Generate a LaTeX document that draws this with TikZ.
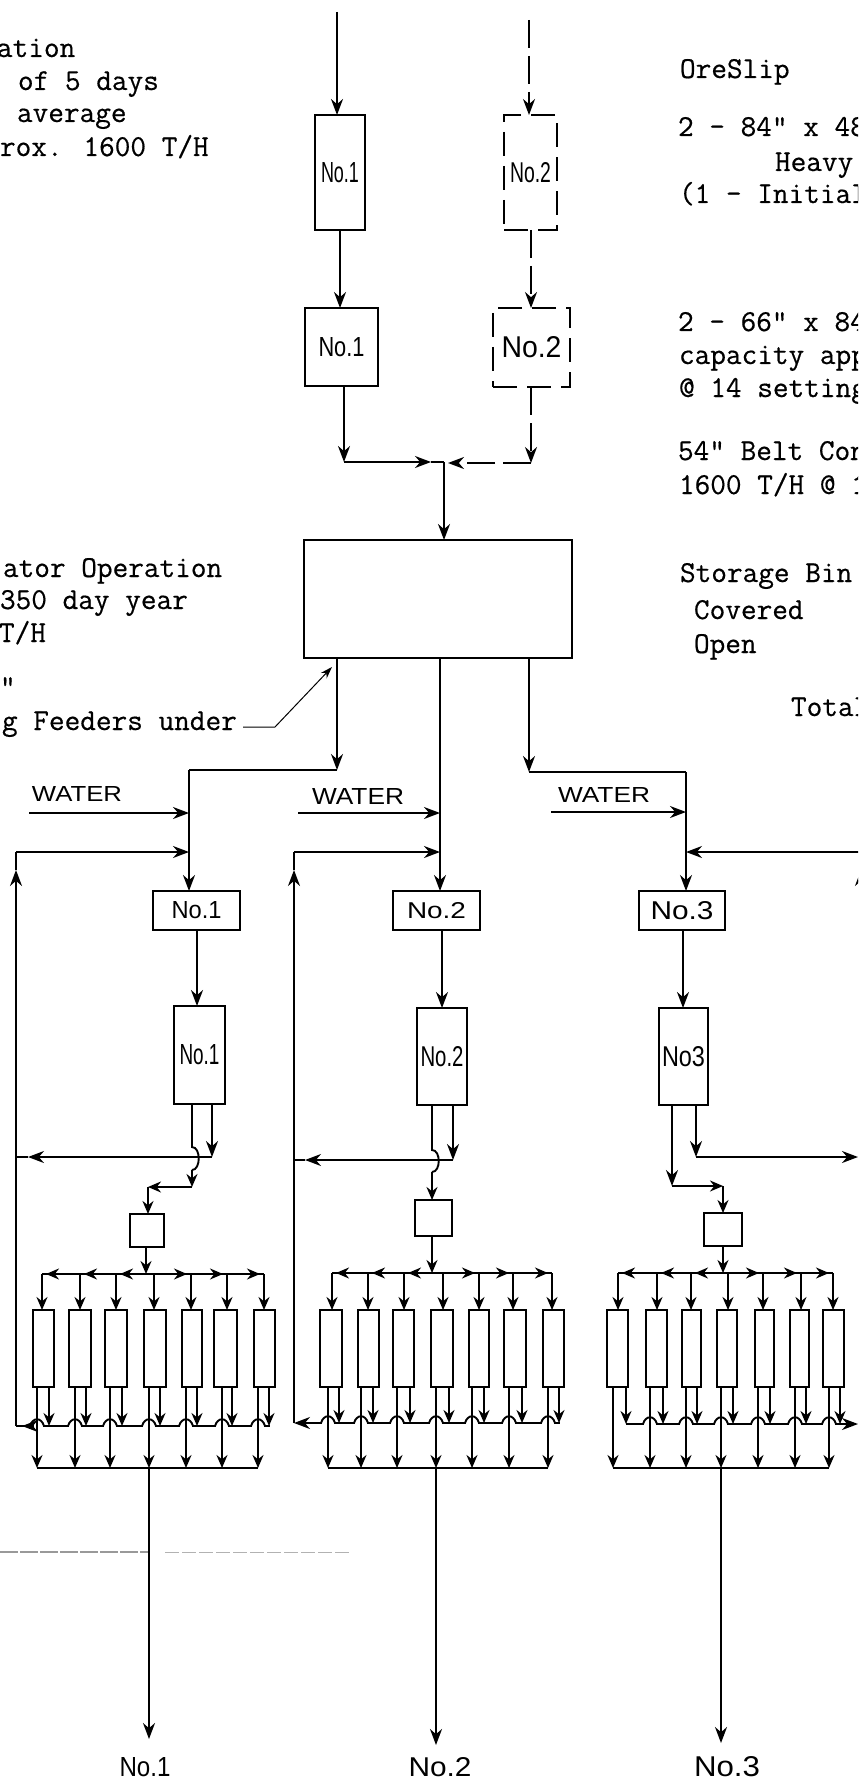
\documentclass[tikz,border=0pt]{standalone}
\usepackage{fontspec}
\usepackage{graphicx}
\setsansfont{Liberation Sans}
\newfontfamily\twfont[FakeBold=0.5]{Latin Modern Mono}
\usetikzlibrary{arrows.meta}
\newcommand{\hw}[3]{\resizebox{#1pt}{#2pt}{\sffamily #3}}
\tikzset{
  tw/.style={anchor=base west,inner sep=0pt,outer sep=0pt,font=\fontsize{15.2}{18}\selectfont\twfont},
  lbl/.style={inner sep=0pt,outer sep=0pt},
  boxn/.style={draw,line width=1.1pt,inner sep=0pt,outer sep=0pt},
  dbox/.style={boxn,line width=0.95pt,dash pattern=on 12pt off 5pt},
  line/.style={line width=0.95pt},
  arr/.style={line,-{Stealth[length=8pt,width=6pt]}},
  sarr/.style={line,-{Stealth[length=6.5pt,width=5.5pt]}},
  darr/.style={arr,dash pattern=on 14pt off 4pt},
  thin leader/.style={line width=0.5pt,-{Stealth[length=6pt,width=4pt]}}
}
\newcommand{\pbox}[7][boxn]{%
  \node[#1,minimum width={(#5-#3)*0.5pt},minimum height={(#6-#4)*0.5pt}] (#2) at ({(#3+#5)/2},{(#4+#6)/2}) {#7};}
% #1 name, #2 header y, #3 collector y, #4 first hop, #5 list
\newcommand{\bank}[5]{%
  \foreach \i/\xa/\xb/\xd/\xl/\xr/\xs in {#5}{%
    \pbox{#1b\i}{\xa}{1310}{\xb}{1387}{}
    \coordinate (#1h\i) at (\xd,#2);
    \coordinate (#1k\i) at (\xl,#3);
    \coordinate (#1l\i) at (\xl,1468);
    \coordinate (#1r\i) at (\xr,#3);
    \draw[sarr] (#1h\i) -- (#1b\i.north -| #1h\i);
    \ifnum\xs=0\else
      \draw[sarr] ([xshift=\xs*8pt]#1h\i) -- ([xshift=\xs*2pt]#1h\i);
    \fi
    \ifnum\i<#4\else
      \draw[white,line width=2pt] ([xshift=-3.2pt]#1k\i) -- ([xshift=3.2pt]#1k\i);
      \draw[line] ([xshift=-3.5pt]#1k\i) .. controls ([xshift=-2.2pt,yshift=4.5pt]#1k\i) and ([xshift=2.2pt,yshift=4.5pt]#1k\i) .. ([xshift=3.5pt]#1k\i);
    \fi
    \draw[sarr] (#1b\i.south -| #1l\i) -- (#1l\i);
    \draw[sarr] (#1b\i.south -| #1r\i) -- (#1r\i);
  }}
\begin{document}
\begin{tikzpicture}[x=0.5pt,y=-0.5pt]
\useasboundingbox (0,0) rectangle (858,1781);
\clip (0,0) rectangle (858,1781);
% ---------- left notes
\node[tw] (t1) at (-3,57) {ation};
\node[tw] (t2) at (18,90) {of 5 days};
\node[tw] (t3) at (17,122) {average};
\node[tw] (t4) at (0,156) {rox. 1600 T/H};
\node[tw] (t5) at (3,577) {ator Operation};
\node[tw] (t6) at (0,609) {350 day year};
\node[tw] (t7) at (-1,642) {T/H};
\node[tw] (t8) at (0,696) {"};
\node[tw] (t9) at (2,730) {g Feeders under};
% ---------- right notes
\node[tw] (r1) at (680,78) {OreSlip};
\node[tw] (r2) at (678,136) {2 - 84" x 48"};
\node[tw] (r3) at (775,171) {Heavy};
\node[tw] (r4) at (679,203) {(1 - Initial};
\node[tw] (r5) at (678,331) {2 - 66" x 84"};
\node[tw] (r6) at (679,364) {capacity app};
\node[tw] (r7) at (679,397) {@ 14 setting};
\node[tw] (r8) at (678,460) {54" Belt Con};
\node[tw] (r9) at (679,494) {1600 T/H @ 1};
\node[tw] (r10) at (680,582) {Storage Bin};
\node[tw] (r11) at (694,619) {Covered};
\node[tw] (r12) at (694,653) {Open};
\node[tw] (r13) at (791,716) {Total};
% ---------- top train
\coordinate (in1) at (337,12);
\coordinate (in2) at (529,20);
\pbox{sc1}{315}{115}{365}{230}{\hw{19}{10}{No.1}}
\pbox{cr1}{305}{308}{378}{386}{\hw{23}{9.5}{No.1}}
\pbox[dbox]{sc2}{504}{115}{557}{230}{\hw{20.5}{10}{No.2}}
\pbox[dbox]{cr2}{493}{308}{570}{387}{\hw{30}{10.5}{No.2}}
\pbox{bin}{304}{540}{572}{658}{}
\coordinate (a1) at (340,0);
\coordinate (a2) at (344,462);
\coordinate (a3) at (444,462);
\coordinate (a4) at (431,462);
\coordinate (a5) at (531,0);
\coordinate (a6) at (531,463);
\coordinate (a7) at (448,463);
\draw[arr] (in1) -- (sc1.north -| in1);
\draw[arr] (sc1.south -| a1) -- (cr1.north -| a1);
\draw[arr] (cr1.south -| a2) -- (a2);
\draw[arr] (a2) -- (a4);
\draw[line] (a4) -- (a3);
\draw[darr] (in2) -- (sc2.north -| in2);
\draw[darr] (sc2.south -| a5) -- (cr2.north -| a5);
\draw[darr] (cr2.south -| a5) -- (a6);
\draw[darr] (a6) -- (a7);
\draw[arr] (a3) -- (bin.north -| a3);
% ---------- leader
\coordinate (ld1) at (243,727);
\coordinate (ld2) at (275,727);
\coordinate (ld3) at (332,667);
\draw[thin leader] (ld1) -- (ld2) -- (ld3);
% ---------- feeders
\pbox{f1}{153}{891}{240}{930}{\hw{25}{8.5}{No.1}}
\pbox{f2}{393}{891}{480}{930}{\hw{29.5}{8}{No.2}}
\pbox{f3}{639}{891}{725}{930}{\hw{31.5}{9}{No.3}}
\coordinate (o1) at (337,0);
\coordinate (o1b) at (337,770);
\coordinate (o1c) at (189,770);
\coordinate (o2) at (440,0);
\coordinate (o3) at (529,0);
\coordinate (o3b) at (529,772);
\coordinate (o3c) at (686,772);
\draw[arr] (bin.south -| o1) -- (o1b);
\draw[line] (o1b) -- (o1c);
\draw[arr] (o1c) -- (f1.north -| o1c);
\draw[arr] (bin.south -| o2) -- (f2.north -| o2);
\draw[arr] (bin.south -| o3) -- (o3b);
\draw[line] (o3b) -- (o3c);
\draw[arr] (o3c) -- (f3.north -| o3c);
% ---------- water
\node[lbl] (w1) at (77,794) {\hw{45}{7.5}{WATER}};
\node[lbl] (w2) at (358,796) {\hw{46}{8}{WATER}};
\node[lbl] (w3) at (604,795) {\hw{46}{7.5}{WATER}};
\coordinate (w1a) at (29,813); \coordinate (w1b) at (189,813);
\coordinate (w2a) at (298,813); \coordinate (w2b) at (440,813);
\coordinate (w3a) at (551,812); \coordinate (w3b) at (686,812);
\draw[arr] (w1a) -- (w1b);
\draw[arr] (w2a) -- (w2b);
\draw[arr] (w3a) -- (w3b);
% ---------- cyclones
\coordinate (g1) at (197,0); \coordinate (g2) at (442,0); \coordinate (g3) at (683,0);
\pbox{cy1}{174}{1006}{225}{1104}{\hw{20}{10}{No.1}}
\pbox{cy2}{417}{1008}{467}{1105}{\hw{21.5}{10}{No.2}}
\pbox{cy3}{659}{1008}{708}{1105}{\hw{21.5}{10}{No3}}
\draw[arr] (f1.south -| g1) -- (cy1.north -| g1);
\draw[arr] (f2.south -| g2) -- (cy2.north -| g2);
\draw[arr] (f3.south -| g3) -- (cy3.north -| g3);
% ---------- distributor boxes
\pbox{d1}{130}{1214}{164}{1247}{}
\pbox{d2}{415}{1200}{452}{1236}{}
\pbox{d3}{704}{1213}{742}{1246}{}
% column 1 outlets
\coordinate (u1) at (192,0); \coordinate (u1a) at (192,1147); \coordinate (u1b) at (192,1170); \coordinate (u1c) at (192,1187);
\coordinate (u1d) at (148,1187);
\coordinate (v1) at (212,0); \coordinate (v1a) at (212,1157); \coordinate (v1b) at (28,1157); \coordinate (v1c) at (16,1157);
\draw[arr] (cy1.south -| v1) -- (v1a);
\draw[arr] (v1a) -- (v1b);
\draw[line] (v1b) -- (v1c);
\draw[line] (cy1.south -| u1) -- (u1a) .. controls ([xshift=4.5pt]u1a) and ([xshift=4.5pt]u1b) .. (u1b);
\draw[sarr] (u1b) -- (u1c);
\draw[sarr] (u1c) -- (u1d);
\draw[sarr] (u1d) -- (d1.north -| u1d);
% column 2 outlets
\coordinate (u2) at (432,0); \coordinate (u2a) at (432,1150); \coordinate (u2b) at (432,1172);
\coordinate (v2) at (453,0); \coordinate (v2a) at (453,1160); \coordinate (v2b) at (305,1160); \coordinate (v2c) at (294,1160);
\draw[arr] (cy2.south -| v2) -- (v2a);
\draw[arr] (v2a) -- (v2b);
\draw[line] (v2b) -- (v2c);
\draw[line] (cy2.south -| u2) -- (u2a) .. controls ([xshift=4.5pt]u2a) and ([xshift=4.5pt]u2b) .. (u2b);
\draw[sarr] (u2b) -- (d2.north -| u2b);
% column 3 outlets
\coordinate (u3) at (672,0); \coordinate (u3a) at (672,1186); \coordinate (u3b) at (723,1186);
\coordinate (v3) at (696,0); \coordinate (v3a) at (696,1157); \coordinate (v3b) at (858,1157);
\draw[arr] (cy3.south -| u3) -- (u3a);
\draw[sarr] (u3a) -- (u3b);
\draw[sarr] (u3b) -- (d3.north -| u3b);
\draw[arr] (cy3.south -| v3) -- (v3a);
\draw[arr] (v3a) -- (v3b);
% ---------- headers and collectors
\coordinate (e1) at (146,0); \coordinate (e2) at (432,0); \coordinate (e3) at (723,0);
\coordinate (c1hL) at (42,1274); \coordinate (c1hR) at (264,1274);
\coordinate (c2hL) at (332,1273); \coordinate (c2hR) at (552,1273);
\coordinate (c3hL) at (618,1273); \coordinate (c3hR) at (833,1273);
\draw[line] (c1hL) -- (c1hR);
\draw[line] (c2hL) -- (c2hR);
\draw[line] (c3hL) -- (c3hR);
\draw[sarr] (d1.south -| e1) -- (c1hL -| e1);
\draw[sarr] (d2.south -| e2) -- (c2hL -| e2);
\draw[sarr] (d3.south -| e3) -- (c3hL -| e3);
\coordinate (c1cL) at (22,1426); \coordinate (c1cR) at (270,1426);
\coordinate (c2cL) at (305,1423); \coordinate (c2cR) at (560,1423);
\coordinate (c3cL) at (626,1424); \coordinate (c3cR) at (858,1424);
\draw[line] (c1cL) -- (c1cR);
\draw[line] (c2cL) -- (c2cR);
\draw[arr] (c3cL) -- (c3cR);
% ---------- banks of seven
\bank{c1}{1274}{1426}{1}{1/33/54/42/37/49/1,2/69/91/80/75/86/1,3/105/127/116/110/122/1,4/144/166/154/149/160/0,5/182/202/191/186/197/-1,6/214/237/227/222/232/-1,7/254/275/264/258/269/-1}
\bank{c2}{1273}{1423}{1}{1/320/342/332/328/339/1,2/358/379/368/361/373/1,3/393/414/404/397/410/1,4/431/453/443/436/449/0,5/469/489/479/472/484/-1,6/504/526/513/509/522/-1,7/543/564/552/548/559/-1}
\bank{c3}{1273}{1424}{2}{1/607/628/618/613/626/1,2/646/667/657/650/663/1,3/682/701/691/686/697/1,4/717/737/728/721/733/0,5/755/774/763/758/770/-1,6/790/809/801/795/806/-1,7/823/844/833/829/840/-1}
\draw[line] (c1l1) -- (c1l7);
\draw[line] (c2l1) -- (c2l7);
\draw[line] (c3l1) -- (c3l7);
% ---------- recycle
\coordinate (q1a) at (34,1426); \coordinate (q1b) at (16,1426); \coordinate (q1c) at (16,870); \coordinate (q1d) at (16,852); \coordinate (q1e) at (189,852);
\draw[arr] (q1a) -- (c1cL);
\draw[line] (c1cL) -- (q1b);
\draw[arr] (q1b) -- (q1c);
\draw[line] (q1c) -- (q1d);
\draw[arr] (q1d) -- (q1e);
\coordinate (q2a) at (315,1423); \coordinate (q2b) at (294,1423); \coordinate (q2c) at (294,870); \coordinate (q2d) at (294,852); \coordinate (q2e) at (440,852);
\draw[line] (c2cL) -- (q2a);
\draw[arr] (q2a) -- (q2b);
\draw[arr] (q2b) -- (q2c);
\draw[line] (q2c) -- (q2d);
\draw[arr] (q2d) -- (q2e);
\coordinate (q3a) at (861,1424); \coordinate (q3c) at (861,870); \coordinate (q3d) at (861,852); \coordinate (q3e) at (686,852);
\draw[arr] (q3a) -- (q3c);
\draw[line] (q3c) -- (q3d);
\draw[arr] (q3d) -- (q3e);
% ---------- final outlets
\node[lbl] (p1) at (145,1767) {\hw{25.5}{9.5}{No.1}};
\node[lbl] (p2) at (440,1767) {\hw{31.5}{9.5}{No.2}};
\node[lbl] (p3) at (727,1767) {\hw{33}{10}{No.3}};
\coordinate (m1) at (149,1468); \coordinate (n1) at (149,1739);
\coordinate (m2) at (436,1468); \coordinate (n2) at (436,1745);
\coordinate (m3) at (721,1468); \coordinate (n3) at (721,1743);
\draw[arr] (m1) -- (n1);
\draw[arr] (m2) -- (n2);
\draw[arr] (m3) -- (n3);
% ---------- faint line
\coordinate (z1) at (0,1552); \coordinate (z2) at (148,1552); \coordinate (z3) at (165,1552); \coordinate (z4) at (350,1552);
\draw[black!40,line width=0.55pt,dash pattern=on 9pt off 1pt] (z1) -- (z2);
\draw[black!30,line width=0.5pt,dash pattern=on 7pt off 1.5pt] (z3) -- (z4);
\end{tikzpicture}
\end{document}
